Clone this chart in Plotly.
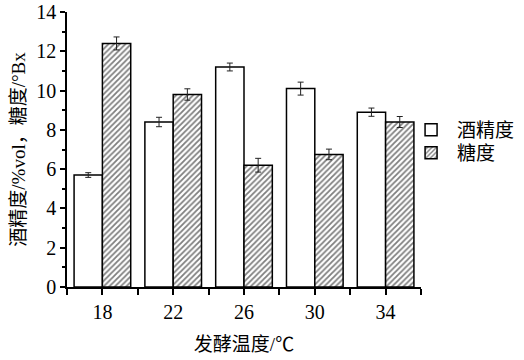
import plotly.graph_objects as go

temps = ["18", "22", "26", "30", "34"]
alcohol = [5.7, 8.4, 11.2, 10.1, 8.9]
alcohol_err = [0.12, 0.24, 0.2, 0.33, 0.21]
sugar = [12.4, 9.8, 6.2, 6.75, 8.4]
sugar_err = [0.33, 0.29, 0.35, 0.27, 0.28]
y_ticks = [0, 2, 4, 6, 8, 10, 12, 14]

xpos = list(range(len(temps)))
FONT = "'Liberation Serif', 'Times New Roman', 'Noto Sans CJK SC', serif"

fig = go.Figure()
fig.add_trace(go.Bar(
    x=xpos, y=alcohol, name="酒精度", legend="legend", showlegend=True,
    marker=dict(color="white", line=dict(color="black", width=1.5)),
    error_y=dict(type="data", array=alcohol_err, color="#222", thickness=1, width=3),
))
fig.add_trace(go.Bar(
    x=xpos, y=sugar, name="糖度", legend="legend2", showlegend=True,
    marker=dict(color="white", line=dict(color="black", width=1.5),
                pattern=dict(shape="/", fgcolor="black", bgcolor="white", size=4, solidity=0.45)),
    error_y=dict(type="data", array=sugar_err, color="#222", thickness=1, width=3),
))

leg_common = dict(xanchor="left", yanchor="middle", font=dict(size=19),
                  bgcolor="rgba(0,0,0,0)", borderwidth=0, itemwidth=42)
fig.update_layout(
    width=524, height=360,
    margin=dict(l=67, r=103, t=12, b=73, autoexpand=False),
    barmode="group", bargap=0.2, bargroupgap=0,
    plot_bgcolor="white", paper_bgcolor="white",
    font=dict(family=FONT, size=18, color="black"),
    showlegend=True,
    legend=dict(x=0.955, y=(287 - 130) / 275, **leg_common),
    legend2=dict(x=0.955, y=(287 - 153) / 275, **leg_common),
)
fig.update_xaxes(
    range=[-0.5, 4.5], tickvals=xpos, ticktext=temps, automargin=False,
    showline=True, linecolor="black", linewidth=1.5,
    ticks="outside", ticklen=6, tickwidth=1.5, tickcolor="black",
    minor=dict(tickvals=[-0.5, 0.5, 1.5, 2.5, 3.5, 4.5], ticks="outside", ticklen=6, tickwidth=1.5, tickcolor="black"),
    showgrid=False, zeroline=False,
    tickfont=dict(size=20),
    title=dict(text="发酵温度/℃", font=dict(size=19), standoff=16),
)
fig.update_yaxes(
    range=[0, 14], tickvals=y_ticks, automargin=False,
    showline=True, linecolor="black", linewidth=1.5,
    ticks="outside", ticklen=5, tickwidth=1.5, tickcolor="black",
    minor=dict(dtick=1, ticks="outside", ticklen=3, tickwidth=1.5, tickcolor="black"),
    showgrid=False, zeroline=False,
    tickfont=dict(size=20),
    title=dict(text="酒精度/%vol，糖度/°Bx", font=dict(size=19), standoff=6),
)

fig.write_html("out.html", config={"displayModeBar": False})
with open("out.html", encoding="utf-8") as f:
    html = f.read()
html = html.replace("<body>", "<body style=\"margin:0;padding:0;\">", 1)
with open("out.html", "w", encoding="utf-8") as f:
    f.write(html)
